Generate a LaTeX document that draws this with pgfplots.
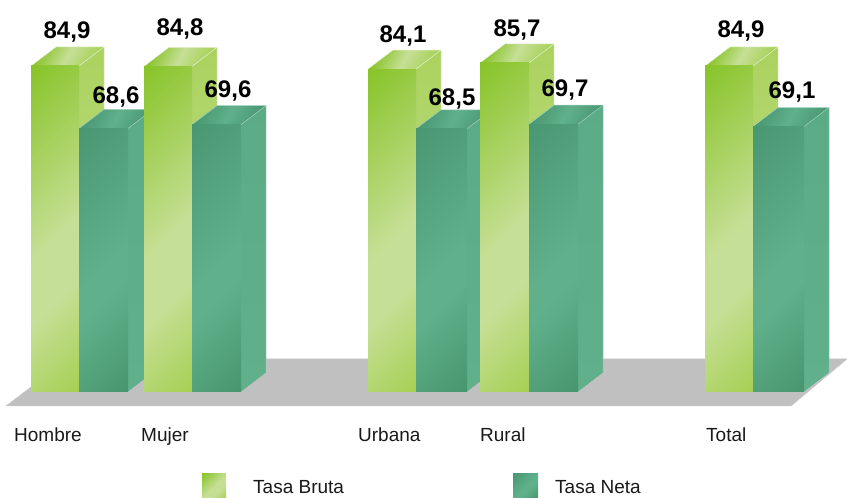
\documentclass[border=0pt]{standalone}
\usepackage{pgfplots}
\pgfplotsset{compat=1.18}
\usepackage{fontspec}
\setmainfont{Liberation Sans}
\definecolor{lgA}{HTML}{88C42A}
\definecolor{lgB}{HTML}{C6DF96}
\definecolor{lgC}{HTML}{A6D055}
\definecolor{dgA}{HTML}{4A9873}
\definecolor{dgB}{HTML}{5FB08B}
\definecolor{dgC}{HTML}{48966F}
\definecolor{floorc}{HTML}{C0C0C0}
\pgfdeclareverticalshading{lightfront}{100bp}{color(0bp)=(lgC); color(15bp)=(lgC); color(36bp)=(lgB); color(48bp)=(lgB); color(85bp)=(lgA); color(100bp)=(lgA)}
\pgfdeclareverticalshading{darkfront}{100bp}{color(0bp)=(dgC); color(15bp)=(dgC); color(40bp)=(dgB); color(48bp)=(dgB); color(85bp)=(dgA); color(100bp)=(dgA)}
\pgfdeclareverticalshading{lighttop}{100bp}{color(0bp)=(lgC); color(25bp)=(lgC); color(50bp)=(lgB); color(75bp)=(lgA); color(100bp)=(lgA)}
\pgfdeclareverticalshading{darktop}{100bp}{color(0bp)=(dgA); color(25bp)=(dgA); color(50bp)=(dgB); color(75bp)=(dgA); color(100bp)=(dgA)}
\pgfdeclareverticalshading{lightside}{100bp}{color(0bp)=(lgB); color(25bp)=(lgB); color(75bp)=(lgC!85!lgB); color(100bp)=(lgC!85!lgB)}
\pgfdeclareverticalshading{darkside}{100bp}{color(0bp)=(dgB); color(25bp)=(dgB); color(75bp)=(dgB!80!dgA); color(100bp)=(dgB!80!dgA)}
% one bar: x left, x right, value, shading prefix, edge colour
\newcommand{\threedbar}[5]{%
  \pgfmathsetmacro{\xb}{#2+25}\pgfmathsetmacro{\xa}{#1+25}\pgfmathsetmacro{\yt}{#3+4.96}%
  \addplot[draw=none, shading=#4side, shading angle=0, forget plot] coordinates {(#2,0) (\xb,4.96) (\xb,\yt) (#2,#3)} -- cycle;
  \addplot[draw=none, shading=#4top, shading angle=60, forget plot] coordinates {(#1,#3) (\xa,\yt) (\xb,\yt) (#2,#3)} -- cycle;
  \addplot[#5, line width=0.5pt, forget plot] coordinates {(#1,#3) (\xa,\yt) (\xb,\yt) (\xb,4.96)};
  \addplot[#5, line width=0.5pt, forget plot] coordinates {(#2,#3) (\xb,\yt)};
  \addplot[draw=none, shading=#4front, shading angle=45, forget plot] coordinates {(#1,0) (#2,0) (#2,#3) (#1,#3)} -- cycle;
}
\newcommand{\vlab}[3]{\node[font=\fontsize{24}{26}\selectfont\bfseries, text=black, inner sep=0pt, anchor=center] at (axis cs:#1,#2) {#3};}
\newcommand{\clab}[2]{\node[font=\fontsize{19}{22}\selectfont, text=black!90, inner sep=0pt, anchor=base west] at (axis cs:#1,-13.04) {#2};}
\begin{document}
\begin{tikzpicture}
\useasboundingbox (0,0) rectangle (847pt,498pt);
\begin{axis}[
  at={(0,0)}, anchor=south west,
  width=847pt, height=498pt, scale only axis,
  xmin=0, xmax=847, ymin=-27.78, ymax=102.11,
  axis lines=none, clip=true,
]
% floor
\addplot[fill=floorc, draw=black!8!floorc!70!white, line width=0.5pt, forget plot] coordinates {(6,-3.78) (791,-3.78) (847,8.48) (68,8.48)} -- cycle;
% bars
\threedbar{31}{79}{84.9}{light}{lgB!50!white}
\threedbar{79}{128}{68.6}{dark}{dgB!60!white}
\threedbar{144}{192}{84.8}{light}{lgB!50!white}
\threedbar{192}{241}{69.6}{dark}{dgB!60!white}
\threedbar{368}{416}{84.1}{light}{lgB!50!white}
\threedbar{416}{467}{68.5}{dark}{dgB!60!white}
\threedbar{480}{529}{85.7}{light}{lgB!50!white}
\threedbar{529}{578}{69.7}{dark}{dgB!60!white}
\threedbar{705}{753}{84.9}{light}{lgB!50!white}
\threedbar{753}{804}{69.1}{dark}{dgB!60!white}
% legend swatches
\addplot[draw=none, shading=lightfront, shading angle=45, forget plot] coordinates {(202,-21.52) (226,-21.52) (226,-27.78) (202,-27.78)} -- cycle;
\addplot[draw=none, shading=darkfront, shading angle=45, forget plot] coordinates {(513,-21.52) (538,-21.52) (538,-27.78) (513,-27.78)} -- cycle;
% value labels
\vlab{67}{93.8}{84,9}
\vlab{116}{76.8}{68,6}
\vlab{180}{94.6}{84,8}
\vlab{228}{78.4}{69,6}
\vlab{403}{92.7}{84,1}
\vlab{452}{76.3}{68,5}
\vlab{517}{94.3}{85,7}
\vlab{565}{78.6}{69,7}
\vlab{741}{94.1}{84,9}
\vlab{792}{78.1}{69,1}
% category labels
\clab{14}{Hombre}
\clab{141}{Mujer}
\clab{358}{Urbana}
\clab{480}{Rural}
\clab{706}{Total}
\node[font=\fontsize{19}{22}\selectfont, text=black!90, inner sep=0pt, anchor=base west] at (axis cs:253,-26.7) {Tasa Bruta};
\node[font=\fontsize{19}{22}\selectfont, text=black!90, inner sep=0pt, anchor=base west] at (axis cs:555,-26.7) {Tasa Neta};
\end{axis}
\end{tikzpicture}
\end{document}
